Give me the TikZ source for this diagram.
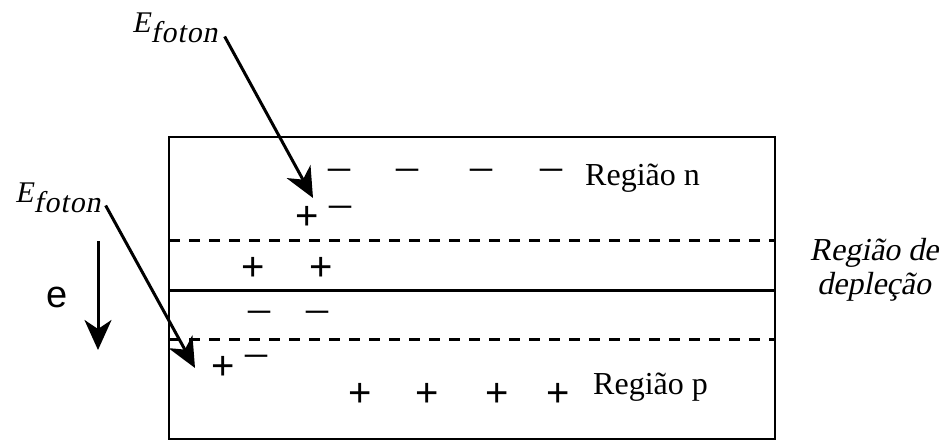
\documentclass[tikz,border=0pt]{standalone}
\usepackage{fontspec}
\setmainfont{Liberation Serif}
\newfontfamily\arial{Liberation Sans}
\newfontfamily\inclinada{Liberation Serif}[FakeSlant=0.2]
\usetikzlibrary{arrows.meta}

\begin{document}
\begin{tikzpicture}[x=1pt,y=-1pt,
    seta/.style={line width=3pt,-{Stealth[length=30pt,width=27pt,inset=9pt]}},
    mais/.style={font=\arial\fontsize{40}{40}\selectfont,inner sep=0pt},
    menos/.style={font=\fontsize{44}{44}\selectfont,inner sep=0pt},
    rotulo/.style={font=\fontsize{32}{34}\selectfont,anchor=base west,inner sep=0pt},
    foton/.style={font=\inclinada\fontsize{30}{32}\selectfont,anchor=base west,inner sep=0pt}]
    \useasboundingbox (0,0) rectangle (947,441);
    \draw[line width=2.5pt] (169,137) rectangle (775,439);
    \draw[line width=3pt,dash pattern=on 11pt off 9pt] (169,240) -- (775,240);
    \draw[line width=3pt] (169,290) -- (775,290);
    \draw[line width=3pt,dash pattern=on 11pt off 9pt] (169,339) -- (775,339);

    \node[rotulo] (regn) at (585,185) {Região n};
    \node[rotulo] (regp) at (593,394) {Região p};
    \node[font=\inclinada\fontsize{32}{34}\selectfont,align=center,inner sep=0pt] (deplecao) at (874,270) {Região de\\depleção};

    \foreach \x [count=\i] in {339,407,481,551}
        \node[menos] (mn\i) at (\x,175) {–};
    \node[mais] (pn) at (307,218) {+};
    \node[menos] (mn5) at (340,212) {–};
    \node[mais] (pd1) at (253,269) {+};
    \node[mais] (pd2) at (321,269) {+};
    \node[menos] (md1) at (259,317) {–};
    \node[menos] (md2) at (317,317) {–};
    \node[mais] (pp) at (223,368) {+};
    \node[menos] (mp) at (256,361) {–};
    \foreach \x [count=\i] in {360,427,497,558}
        \node[mais] (pp\i) at (\x,395) {+};

    \node[font=\arial\fontsize{38}{38}\selectfont,inner sep=0pt] (eletron) at (57,297) {e};
    \coordinate (etopo) at (98,241);
    \coordinate (eponta) at (98,350);
    \draw[seta] (etopo) -- (eponta);

    \node[foton] (foton1) at (132,33) {E\raisebox{-10pt}{\addfontfeature{LetterSpace=3}foton}};
    \node[foton] (foton2) at (15,202) {E\raisebox{-10pt}{\addfontfeature{LetterSpace=3}foton}};
    \coordinate (alvo1) at (313,198);
    \coordinate (alvo2) at (195,368);
    \draw[seta] ([xshift=7pt,yshift=7pt]foton1.south east) -- (alvo1);
    \draw[seta] ([xshift=5pt,yshift=7pt]foton2.south east) -- (alvo2);
\end{tikzpicture}
\end{document}
